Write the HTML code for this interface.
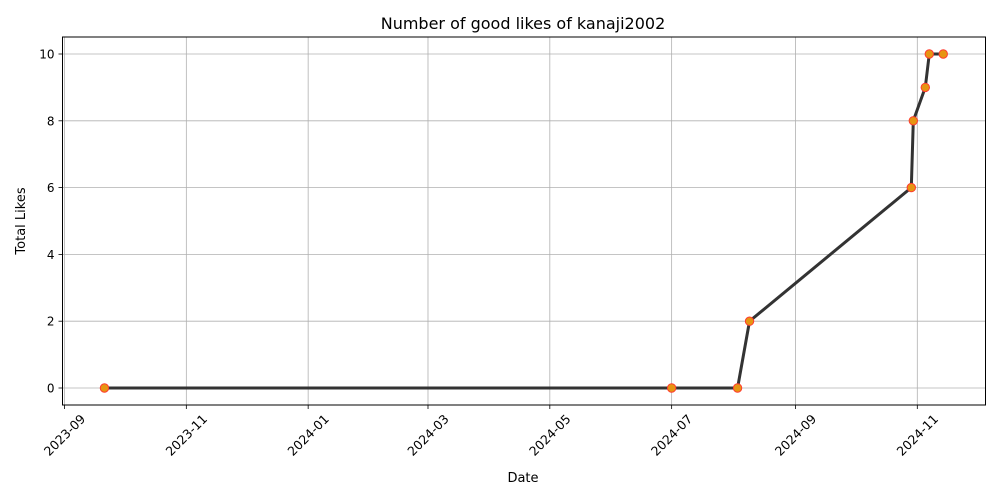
<!DOCTYPE html>
<html><head><meta charset="utf-8"><style>
body{margin:0;background:#fff;}
svg{display:block;font-family:"DejaVu Sans","Liberation Sans",sans-serif;}
</style></head><body>
<svg id="chart" width="1000" height="500">
<rect width="1000" height="500" fill="#fff"/>
<text x="523" y="29" font-size="16" text-anchor="middle">Number of good likes of kanaji2002</text>
<g id="grid"></g><g id="series"></g><g id="axes"></g>
<text x="523" y="482" font-size="13" text-anchor="middle">Date</text>
<text transform="translate(25,221) rotate(-90)" font-size="13" text-anchor="middle">Total Likes</text>
</svg>
<script>
const dates = ["2023-09-21","2024-07-01","2024-08-03","2024-08-09","2024-10-29","2024-10-30","2024-11-05","2024-11-07","2024-11-14"];
const likes = [0,0,0,2,6,8,9,10,10];
const xTicks = ["2023-09","2023-11","2024-01","2024-03","2024-05","2024-07","2024-09","2024-11"];
const yTicks = [0,2,4,6,8,10];

const NS="http://www.w3.org/2000/svg";
const L=62.5,R=985.5,T=37,B=405;
const t0=Date.UTC(2023,8,1), dayPx=(917.3-64.5)/427;
function x(d){const p=d.split('-').map(Number);const t=Date.UTC(p[0],p[1]-1,p[2]||1);return 64.5+(t-t0)/864e5*dayPx;}
function y(v){return 388-v*33.4;}
function mk(tag,attrs,parent){const e=document.createElementNS(NS,tag);for(const k in attrs)e.setAttribute(k,attrs[k]);parent.appendChild(e);return e;}
const grid=document.getElementById('grid'),axes=document.getElementById('axes'),series=document.getElementById('series');
xTicks.forEach(tk=>{
  const X=x(tk);
  const g=mk('line',{x1:X,x2:X,y1:T,y2:B,stroke:'#b0b0b0','stroke-width':0.8},grid);
  
  
  mk('line',{x1:X,x2:X,y1:B,y2:B+4,stroke:'#000','stroke-width':0.8},axes);
  const t=mk('text',{x:0,y:0,'font-size':12.5,'text-anchor':'middle','dominant-baseline':'central',transform:`translate(${X},${B+30}) rotate(-45)`},axes);
  t.textContent=tk;
  
  
});
yTicks.forEach(v=>{
  const Y=y(v);
  const g=mk('line',{x1:L,x2:R,y1:Y,y2:Y,stroke:'#b0b0b0','stroke-width':0.8},grid);
  
  
  mk('line',{x1:L-4,x2:L,y1:Y,y2:Y,stroke:'#000','stroke-width':0.8},axes);
  const t=mk('text',{x:L-8,y:Y+4.5,'font-size':12,'text-anchor':'end'},axes);
  t.textContent=v;
  
  
});
const frame=mk('rect',{x:L,y:T,width:R-L,height:B-T,fill:'none',stroke:'#000','stroke-width':1},axes);


const pts=dates.map((d,i)=>x(d)+','+y(likes[i])).join(' ');
const line=mk('polyline',{points:pts,fill:'none',stroke:'#333','stroke-width':3,'stroke-linejoin':'round'},series);


dates.forEach((d,i)=>{
  const c=mk('circle',{cx:x(d),cy:y(likes[i]),r:4.2,fill:'#e69512',stroke:'#ff3b30','stroke-width':1},series);
  
  
});
</script>
</body></html>
